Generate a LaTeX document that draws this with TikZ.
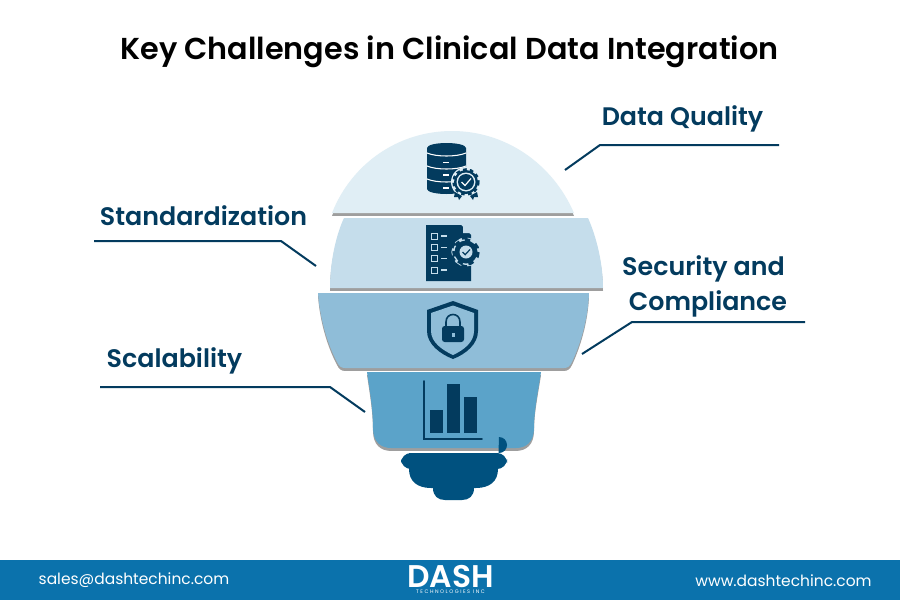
\documentclass[tikz,border=0pt]{standalone}
\usepackage{fontspec}
\setmainfont{Poppins}[BoldFont=Poppins SemiBold]
\usetikzlibrary{calc}
\definecolor{inkblue}{HTML}{033B5E}
\definecolor{baseblue}{HTML}{00517F}
\definecolor{footblue}{HTML}{0B72AC}
\definecolor{segA}{HTML}{E0EEF5}
\definecolor{segB}{HTML}{C5DDEB}
\definecolor{segC}{HTML}{8FBDD8}
\definecolor{segD}{HTML}{5BA3C9}
\tikzset{
	seg/.style={fill=#1,preaction={fill=black!38,transform canvas={yshift=-2.2pt}}},
	lead/.style={draw=inkblue,line width=1.5pt},
	heading/.style={font=\bfseries\fontsize{22.7}{27}\selectfont,text=black,inner sep=0pt},
	tag/.style={font=\bfseries\fontsize{19}{26}\selectfont,text=inkblue,inner sep=0pt},
	foot/.style={font=\fontsize{11.6}{14}\selectfont,text=white,inner sep=0pt},
	icon/.style={fill=inkblue,draw=none}
}
\begin{document}
\begin{tikzpicture}[x=0.75pt,y=-0.75pt]
	\useasboundingbox (0,0) rectangle (900,600);
	\fill[white] (0,0) rectangle (900,600);

	\node[heading] (title) at (449.5,52) {Key Challenges in Clinical Data Integration};

	% bulb
	\path[seg=segA] (332,213) .. controls (351.6,163.4) and (398.6,131) .. (452,131)
		.. controls (505.4,131) and (552.4,163.4) .. (574,213) -- cycle;
	\path[seg=segB] (344,218) -- (588,218) .. controls (597,238) and (603,265) .. (603,288)
		-- (330,288) .. controls (330,262) and (336,235) .. (344,218) -- cycle;
	\path[seg=segC] (318,293) -- (589,293) .. controls (588,320) and (580,345) .. (572,362)
		.. controls (570,366) and (568,368) .. (564,368) -- (345,368)
		.. controls (341,368) and (339,366) .. (337,362) .. controls (328,345) and (320,320) .. (318,293) -- cycle;
	\path[seg=segD] (367,372) -- (541,372) .. controls (538,392) and (534,410) .. (534,428)
		.. controls (534,442) and (526,448) .. (516,448) -- (391,448)
		.. controls (381,448) and (373,442) .. (373,428) .. controls (373,410) and (370,392) .. (367,372) -- cycle;

	% base
	\fill[baseblue] (409,453) -- (498,453) -- (499,453) arc[start angle=90,end angle=-90,radius=8]
		-- (498,469) .. controls (498,481) and (490,488) .. (476,488) -- (474,488)
		.. controls (474,496) and (469,500) .. (462,500) -- (445,500)
		.. controls (438,500) and (433,496) .. (433,488) -- (431,488)
		.. controls (417,488) and (409,481) .. (409,469) -- cycle;
	\fill[baseblue,rounded corners=7.5pt] (401,453) rectangle (507,469);

	% database icon
	\fill[icon] (427,148) .. controls (427,145) and (436,143) .. (446.5,143)
		.. controls (457,143) and (466,145) .. (466,148) -- (466,189)
		.. controls (466,192) and (457,194) .. (446.5,194)
		.. controls (436,194) and (427,192) .. (427,189) -- cycle;
	\draw[white,line width=0.8pt] (427,153) .. controls (436,157) and (457,157) .. (466,153);
	\draw[white,line width=0.8pt] (427,166) .. controls (436,170) and (457,170) .. (466,166);
	\draw[white,line width=0.8pt] (427,179) .. controls (436,183) and (457,183) .. (466,179);
	\draw[white,line width=0.8pt] (443,162.5) -- (449,162.5);
	\draw[white,line width=0.8pt] (443,175) -- (449,175);
	\draw[white,line width=0.8pt] (443,188) -- (449,188);
	\fill[segA] (466,182) circle[radius=15];
	\fill[icon] (455,192) -- (462,196) -- (459,200) -- (458,197) -- (454,197) -- cycle;
	\fill[icon] (477,192) -- (470,196) -- (473,200) -- (474,197) -- (478,197) -- cycle;
	\draw[inkblue,line width=2.6pt,dash pattern=on 2.6pt off 2.4pt] (466,182) circle[radius=12];
	\fill[inkblue] (466,182) circle[radius=12];
	\fill[segA] (466,182) circle[radius=9.5];
	\fill[inkblue] (466,182) circle[radius=8];
	\draw[white,line width=0.9pt] (461.5,182) -- (465,185.5) -- (471,178.5);

	% checklist icon
	\fill[icon] (426,225) -- (461,225) -- (471,235) -- (471,281) -- (426,281) -- cycle;
	\fill[segB] (463,225) -- (471,233) -- (463,233) -- cycle;
	\draw[segB,line width=0.7pt] (431.5,233) rectangle (437.5,239);
	\draw[segB,line width=0.7pt] (431.5,244.5) rectangle (437.5,250.5);
	\draw[segB,line width=0.7pt] (431.5,255.5) rectangle (437.5,261.5);
	\draw[segB,line width=0.7pt] (431.5,267) rectangle (437.5,273);
	\draw[segB,line width=0.8pt] (441,236) -- (446.5,236);
	\draw[segB,line width=0.8pt] (441,247.5) -- (446.5,247.5);
	\draw[segB,line width=0.8pt] (441,258.5) -- (446.5,258.5);
	\draw[segB,line width=0.8pt] (441,270) -- (446.5,270);
	\draw[segB,line width=4.6pt,dash pattern=on 4.6pt off 3.65pt] (466,252) circle[radius=11.5];
	\fill[segB] (466,252) circle[radius=13];
	\draw[inkblue,line width=2.6pt,dash pattern=on 4pt off 4.25pt] (466,252) circle[radius=12];
	\fill[inkblue] (466,252) circle[radius=11.5];
	\fill[segB] (466,252) circle[radius=6.5];
	\draw[inkblue,line width=0.9pt] (462.5,252) -- (465.2,254.7) -- (470,249.5);

	% shield icon
	\fill[icon] (453,301) -- (478,310) -- (478,331) .. controls (478,344) and (466,354) .. (453,359)
		.. controls (440,354) and (427,344) .. (427,331) -- (427,310) -- cycle;
	\fill[segC] (453,305.5) -- (474,313) -- (474,331) .. controls (474,342) and (464,350) .. (453,355)
		.. controls (442,350) and (431,342) .. (431,331) -- (431,313) -- cycle;
	\fill[icon,rounded corners=2pt] (442,326) rectangle (464,342);
	\draw[inkblue,line width=1.2pt] (446,326) -- (446,322) .. controls (446,312) and (460,312) .. (460,322) -- (460,326);
	\fill[segC] (451.5,332.5) rectangle (454.5,337);

	% chart icon
	\draw[inkblue,line width=1.3pt,line cap=round] (424,381) -- (424,439) -- (482,439);
	\fill[icon] (430,410) rectangle (443,433);
	\fill[icon] (447,384) rectangle (460,433);
	\fill[icon] (464,397) rectangle (477,433);

	% labels and their lines
	\node[tag] (dataQuality) at (682.5,119) {Data Quality};
	\coordinate (dqTail) at (565,170);
	\coordinate (dqBend) at (600,145);
	\coordinate (dqEnd) at (779,145);
	\draw[lead] (dqTail) -- (dqBend) -- (dqEnd);

	\node[tag] (standard) at (203.5,216) {Standardization};
	\coordinate (stTail) at (316,266);
	\coordinate (stBend) at (281,241);
	\coordinate (stEnd) at (94,241);
	\draw[lead] (stTail) -- (stBend) -- (stEnd);

	\node[tag] (security) at (703.5,269) {Security and};
	\node[tag] (comply) at (708,304) {Compliance};
	\coordinate (seTail) at (582,354);
	\coordinate (seBend) at (632,322);
	\coordinate (seEnd) at (805,322);
	\draw[lead] (seTail) -- (seBend) -- (seEnd);

	\node[tag] (scalable) at (174.5,361) {Scalability};
	\coordinate (scTail) at (365,412);
	\coordinate (scBend) at (330,387);
	\coordinate (scEnd) at (100,387);
	\draw[lead] (scTail) -- (scBend) -- (scEnd);

	% footer
	\fill[footblue] (0,560) rectangle (900,600);
	\node[foot] (mail) at (134,580.5) {sales@dashtechinc.com};
	\node[foot] (web) at (783.5,580.5) {www.dashtechinc.com};
	\node[font=\bfseries\fontsize{23.5}{24}\selectfont,text=white,inner sep=0pt] (logo) at (450.5,576.5) {DASH};
	\node[font=\fontsize{3.8}{4}\selectfont\addfontfeatures{LetterSpace=30},text=white,inner sep=0pt] (logoSub) at (450.5,592) {TECHNOLOGIES INC};
\end{tikzpicture}
\end{document}
